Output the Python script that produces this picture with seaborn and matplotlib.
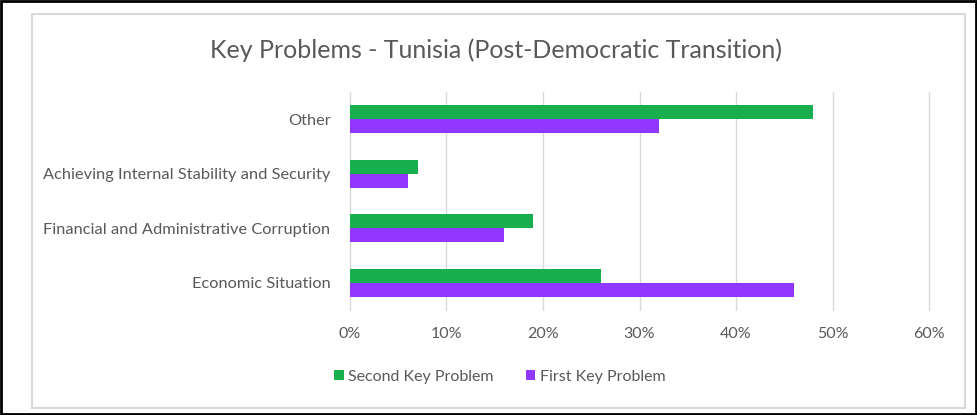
import matplotlib
matplotlib.use("Agg")
import matplotlib.pyplot as plt
import seaborn as sns
import pandas as pd
from matplotlib.patches import Rectangle
from matplotlib.ticker import PercentFormatter

categories = ["Other", "Achieving Internal Stability and Security",
              "Financial and Administrative Corruption", "Economic Situation"]
second_key = [48, 7, 19, 26]
first_key = [32, 6, 16, 46]
series_names = ["Second Key Problem", "First Key Problem"]
x_ticks = [0, 10, 20, 30, 40, 50, 60]

df = pd.DataFrame({
    "category": categories * 2,
    "value": second_key + first_key,
    "series": [series_names[0]] * 4 + [series_names[1]] * 4,
})

sns.set_theme(style="white")
plt.rcParams["font.family"] = ["Lato", "DejaVu Sans"]
txt = "#595959"

fig = plt.figure(figsize=(9.78, 4.15), dpi=100)
ax = fig.add_axes([350 / 978, 1 - 310 / 415, (929 - 350) / 978, (310 - 92) / 415])

sns.barplot(data=df, x="value", y="category", hue="series", order=categories,
            hue_order=series_names, palette=["#18B04E", "#9137FF"],
            width=0.52, orient="h", ax=ax, legend=True, edgecolor="none",
            saturation=1)

ax.set_xlim(0, 60)
ax.set_ylim(3.5, -0.5)
ax.set_xticks(x_ticks)
ax.xaxis.set_major_formatter(PercentFormatter(decimals=0))
ax.grid(axis="x", color="#D9D9D9", linewidth=1)
for gl in ax.get_xgridlines():
    gl.set_clip_on(False)
ax.set_axisbelow(True)
for s in ax.spines.values():
    s.set_visible(False)
ax.set_xlabel("")
ax.set_ylabel("")
ax.tick_params(axis="x", colors=txt, labelsize=11.5, pad=12, length=0)
ax.tick_params(axis="y", colors=txt, labelsize=11.8, pad=14, length=0)

leg = ax.legend(loc="center", bbox_to_anchor=(500 / 978, 1 - 377 / 415),
                bbox_transform=fig.transFigure, ncol=2, frameon=False,
                fontsize=11.5, handlelength=0.6, handleheight=0.6,
                handletextpad=0.3, columnspacing=2.0)
for t in leg.get_texts():
    t.set_color(txt)

fig.text(496 / 978, 1 - 50 / 415, "Key Problems - Tunisia (Post-Democratic Transition)",
         ha="center", va="center", fontsize=18, color=txt)

fig.patches.append(Rectangle((32 / 978, 1 - 408 / 415), (965 - 32) / 978, (408 - 14) / 415,
                             transform=fig.transFigure, fill=False,
                             edgecolor="#D9D9D9", linewidth=1.5))
fig.patches.append(Rectangle((1.5 / 978, 1.5 / 415), 975 / 978, 412 / 415,
                             transform=fig.transFigure, fill=False,
                             edgecolor="black", linewidth=2))

fig.savefig("out.png", dpi=100)
